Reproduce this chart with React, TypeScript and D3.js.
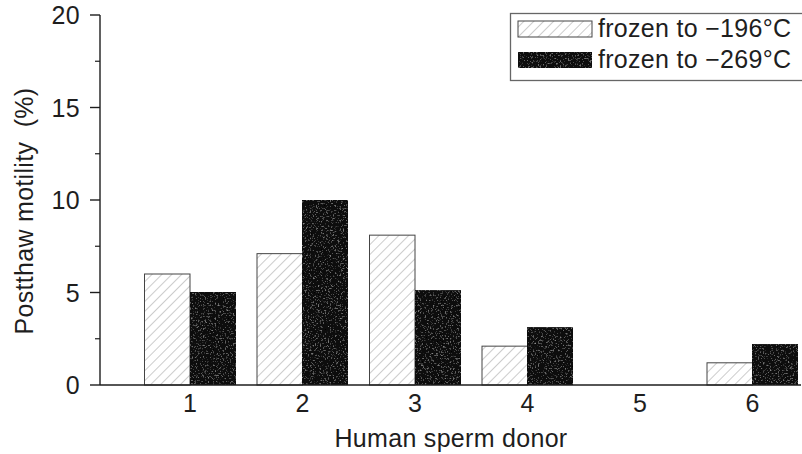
import React from "react";
import * as d3 from "d3";

// Postthaw motility (%) per human sperm donor, two freezing temperatures
const donors = ["1", "2", "3", "4", "5", "6"];
const frozen196 = [6.0, 7.1, 8.1, 2.1, 0, 1.2];
const frozen269 = [5.0, 10.0, 5.1, 3.1, 0, 2.2];
const seriesLabels = ["frozen to \u2212196\u00b0C", "frozen to \u2212269\u00b0C"];
const yTickValues = [0, 5, 10, 15, 20];
const yLabel = "Postthaw motility  (%)";
const xLabel = "Human sperm donor";

const W = 802;
const H = 454;
const FONT = "'Liberation Sans', Arial, Helvetica, sans-serif";
const INK = "#1e1e1e";
const FS = 25;
const LS = 0.3;

export default function App() {
  const y = d3.scaleLinear().domain([0, 20]).range([385, 15]);
  const x = d3.scalePoint<string>().domain(donors).range([190, 752.5]);
  const barW = 45.5;
  const axisX = 100;
  const minorTicks = d3.range(2.5, 20, 5);

  const bars = donors.flatMap((d, i) => [
    { key: `a${d}`, x0: x(d)! - barW, v: frozen196[i], kind: "hatch" },
    { key: `b${d}`, x0: x(d)!, v: frozen269[i], kind: "dark" },
  ]);

  const textProps = { fontSize: FS, fill: INK, letterSpacing: LS };

  return (
    <svg
      width={W}
      height={H}
      style={{ position: "absolute", left: 0, top: 0, background: "#fff" }}
      fontFamily={FONT}
    >
      <defs>
        <pattern
          id="hatch"
          patternUnits="userSpaceOnUse"
          width={7}
          height={7}
          patternTransform="rotate(45)"
        >
          <rect width={7} height={7} fill="#fff" />
          <line x1={0} y1={0} x2={0} y2={7} stroke="#9a9a9a" strokeWidth={1} />
        </pattern>
        <filter id="grain" x="0" y="0" width="1" height="1">
          <feTurbulence type="fractalNoise" baseFrequency="0.6" numOctaves={2} seed={7} result="noise" />
          <feColorMatrix
            in="noise"
            type="matrix"
            values="0 0 0 0 0.26  0 0 0 0 0.26  0 0 0 0 0.26  3.2 0 0 0 -1.85"
            result="speck"
          />
          <feComposite in="speck" in2="SourceAlpha" operator="in" result="clipped" />
          <feMerge>
            <feMergeNode in="SourceGraphic" />
            <feMergeNode in="clipped" />
          </feMerge>
        </filter>
      </defs>

      {/* bars */}
      {bars
        .filter((b) => b.v > 0)
        .map((b) => (
          <rect
            key={b.key}
            x={b.x0}
            y={y(b.v)}
            width={barW}
            height={y(0) - y(b.v)}
            fill={b.kind === "hatch" ? "url(#hatch)" : "#0b0b0b"}
            stroke={b.kind === "hatch" ? "#444" : "#111"}
            strokeWidth={1}
            filter={b.kind === "dark" ? "url(#grain)" : undefined}
          />
        ))}

      {/* y axis */}
      <line x1={axisX} x2={axisX} y1={y(20)} y2={y(0)} stroke={INK} strokeWidth={1.4} />
      {yTickValues.map((t) => (
        <g key={t}>
          <line x1={axisX - 10} x2={axisX} y1={y(t)} y2={y(t)} stroke={INK} strokeWidth={1.4} />
          <text x={axisX - 20} y={y(t)} dy="0.36em" textAnchor="end" {...textProps}>
            {t}
          </text>
        </g>
      ))}
      {minorTicks.map((t) => (
        <line key={t} x1={axisX - 5} x2={axisX} y1={y(t)} y2={y(t)} stroke={INK} strokeWidth={1.2} />
      ))}

      {/* x axis */}
      <line x1={axisX} x2={W - 1} y1={y(0)} y2={y(0)} stroke={INK} strokeWidth={1.6} />
      {donors.map((d) => (
        <text key={d} x={x(d)} y={412} textAnchor="middle" {...textProps}>
          {d}
        </text>
      ))}

      {/* axis titles */}
      <text x={451} y={447} textAnchor="middle" {...textProps}>
        {xLabel}
      </text>
      <text
        transform="translate(33,211) rotate(-90)"
        textAnchor="middle"
        style={{ whiteSpace: "pre" }}
        {...textProps}
      >
        {yLabel}
      </text>

      {/* legend */}
      <rect x={510.5} y={13.5} width={300} height={67} fill="#fff" stroke="#666" strokeWidth={1.3} />
      <rect x={518} y={21} width={74} height={16} fill="url(#hatch)" stroke="#444" strokeWidth={1} />
      <text x={598} y={37} {...textProps}>
        {seriesLabels[0]}
      </text>
      <rect
        x={518}
        y={52}
        width={74}
        height={16}
        fill="#0b0b0b"
        stroke="#111"
        strokeWidth={1}
        filter="url(#grain)"
      />
      <text x={598} y={68} {...textProps}>
        {seriesLabels[1]}
      </text>
    </svg>
  );
}
